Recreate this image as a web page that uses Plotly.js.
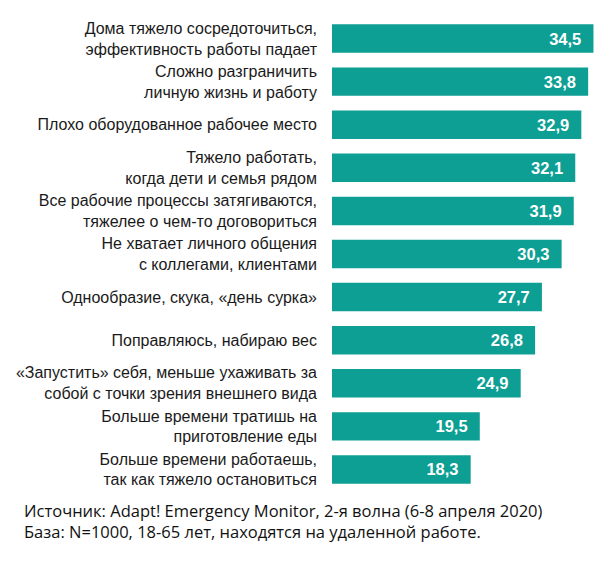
<!DOCTYPE html>
<html>
<head>
<meta charset="utf-8">
<script src="https://cdn.plot.ly/plotly-3.0.1.min.js"></script>
<style>
  html, body { margin: 0; padding: 0; background: #fff; }
  #chart { width: 603px; height: 563px; }
</style>
</head>
<body>
<div id="chart"></div>
<script>
const labels = [
  "Дома тяжело сосредоточиться,<br>эффективность работы падает",
  "Сложно разграничить<br>личную жизнь и работу",
  "Плохо оборудованное рабочее место",
  "Тяжело работать,<br>когда дети и семья рядом",
  "Все рабочие процессы затягиваются,<br>тяжелее о чем-то договориться",
  "Не хватает личного общения<br>с коллегами, клиентами",
  "Однообразие, скука, «день сурка»",
  "Поправляюсь, набираю вес",
  "«Запустить» себя, меньше ухаживать за<br>собой с точки зрения внешнего вида",
  "Больше времени тратишь на<br>приготовление еды",
  "Больше времени работаешь,<br>так как тяжело остановиться"
]
const values = [34.5, 33.8, 32.9, 32.1, 31.9, 30.3, 27.7, 26.8, 24.9, 19.5, 18.3]

const sourceLines = [
  "Источник: Adapt! Emergency Monitor, 2-я волна (6-8 апреля 2020)",
  "База: N=1000, 18-65 лет, находятся на удаленной работе."
]

const trace = {
  type: "bar",
  orientation: "h",
  x: values,
  y: labels,
  marker: { color: "#0d9e94" },
  text: values.map(v => v.toFixed(1).replace(".", ",") + "\u00a0\u00a0"),
  textposition: "inside",
  insidetextanchor: "end",
  textfont: { family: "Liberation Sans, Arial, sans-serif", size: 16.5, color: "#fff", weight: "bold" },
  hoverinfo: "none"
}

// plot area: x 332..598, y 17..491
const plotW = 266, plotH = 474

const layout = {
  width: 603,
  height: 563,
  margin: { l: 332, r: 5, t: 17, b: 72 },
  paper_bgcolor: "#fff",
  plot_bgcolor: "#fff",
  bargap: 0.34,
  showlegend: false,
  xaxis: {
    range: [0, 35.1],
    visible: false,
    fixedrange: true
  },
  yaxis: {
    autorange: "reversed",
    showgrid: false,
    zeroline: false,
    showline: false,
    ticks: "",
    ticklabelstandoff: 14,
    tickfont: { family: "Liberation Sans, Arial, sans-serif", size: 16, color: "#1a1a1a" }
  },
  annotations: [{
    text: sourceLines.join("<br>"),
    xref: "paper", yref: "paper",
    x: (22 - 332) / plotW,
    y: -(521 - 491) / plotH,
    xanchor: "left", yanchor: "middle",
    align: "left",
    showarrow: false,
    font: { family: "Open Sans, Noto Sans, sans-serif", size: 16.5, color: "#111" }
  }]
}

Plotly.newPlot("chart", [trace], layout, { displayModeBar: false, staticPlot: true })
</script>
</body>
</html>
